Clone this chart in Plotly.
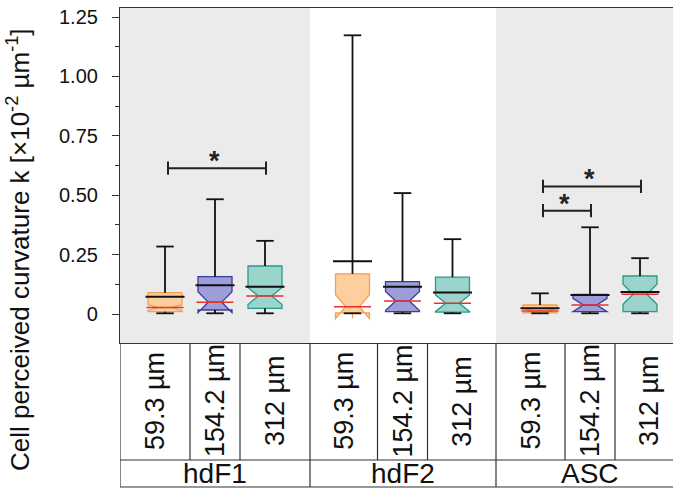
import plotly.graph_objects as go

# ---------------- data ----------------
groups = ["hdF1", "hdF2", "ASC"]
sizes = ["59.3 µm", "154.2 µm", "312 µm"]

# statistics per size, listed for [hdF1, hdF2, ASC]  (units: x10^-2 µm^-1)
s59_lower  = [0.003, 0.003, 0.003]
s59_q1     = [0.010, 0.005, 0.005]
s59_median = [0.027, 0.031, 0.013]
s59_q3     = [0.090, 0.169, 0.038]
s59_upper  = [0.284, 1.173, 0.087]
s59_mean   = [0.073, 0.222, 0.024]
s59_notch  = [0.012, 0.050, 0.010]

s154_lower  = [0.003, 0.003, 0.003]
s154_q1     = [0.017, 0.010, 0.010]
s154_median = [0.050, 0.055, 0.038]
s154_q3     = [0.157, 0.136, 0.083]
s154_upper  = [0.483, 0.509, 0.365]
s154_mean   = [0.121, 0.115, 0.080]
s154_notch  = [0.044, 0.040, 0.028]

s312_lower  = [0.003, 0.003, 0.003]
s312_q1     = [0.024, 0.008, 0.010]
s312_median = [0.076, 0.045, 0.083]
s312_q3     = [0.202, 0.155, 0.160]
s312_upper  = [0.308, 0.315, 0.235]
s312_mean   = [0.115, 0.091, 0.093]
s312_notch  = [0.036, 0.035, 0.042]

# significance brackets: (group, first size index, second size index, height)
sig_group = ["hdF1", "ASC", "ASC"]
sig_from  = [0, 0, 0]
sig_to    = [2, 2, 1]
sig_y     = [0.614, 0.537, 0.435]
sig_text  = ["*", "*", "*"]

y_tickvals = [0, 0.25, 0.50, 0.75, 1.00, 1.25]
y_ticktext = ["0", "0.25", "0.50", "0.75", "1.00", "1.25"]

# ---------------- layout helpers ----------------
group_start = [1.0, 4.75, 8.5]          # x position of first box in each group
group_edges = [0.1, 3.9, 7.62, 11.36]    # group boundaries (x units)
col_lines = [1.5, 2.5, 5.25, 6.25, 9.0, 10.0]
x_range = [0.1, 11.16]

fills = ["#FDCF9E", "#9D9DDA", "#9AD4CC"]
lines = ["#F4A04F", "#3C3C9C", "#2A9A8C"]

series = [
    (s59_lower, s59_q1, s59_median, s59_q3, s59_upper, s59_mean, s59_notch),
    (s154_lower, s154_q1, s154_median, s154_q3, s154_upper, s154_mean, s154_notch),
    (s312_lower, s312_q1, s312_median, s312_q3, s312_upper, s312_mean, s312_notch),
]

box_w = 0.68
cap_half = 0.175
mean_half = 0.39
med_half = 0.37

fig = go.Figure()

for si, (lo, q1, med, q3, up, mn, nt) in enumerate(series):
    xs = [group_start[g] + si for g in range(3)]
    fig.add_trace(go.Box(
        x=xs, q1=q1, median=med, q3=q3,
        lowerfence=q1, upperfence=q3,
        notched=True, notchspan=nt, notchwidth=0.3,
        width=box_w, whiskerwidth=0,
        fillcolor=fills[si], line=dict(color=lines[si], width=1.3),
        boxpoints=False, showlegend=False, hoverinfo="skip",
    ))

# whiskers (black)
wx, wy = [], []
for si, (lo, q1, med, q3, up, mn, nt) in enumerate(series):
    for g in range(3):
        x = group_start[g] + si
        wx += [x, x, None, x - cap_half, x + cap_half, None,
               x, x, None, x - cap_half, x + cap_half, None]
        wy += [q3[g], up[g], None, up[g], up[g], None,
               q1[g], lo[g], None, lo[g], lo[g], None]
fig.add_trace(go.Scatter(x=wx, y=wy, mode="lines",
                         line=dict(color="#111111", width=1.8),
                         showlegend=False, hoverinfo="skip"))

# medians (red)
mx, my = [], []
for si, (lo, q1, med, q3, up, mn, nt) in enumerate(series):
    for g in range(3):
        x = group_start[g] + si
        mx += [x - med_half, x + med_half, None]
        my += [med[g], med[g], None]
fig.add_trace(go.Scatter(x=mx, y=my, mode="lines",
                         line=dict(color="#E8312B", width=1.5),
                         showlegend=False, hoverinfo="skip"))

# means (black)
ax_, ay_ = [], []
for si, (lo, q1, med, q3, up, mn, nt) in enumerate(series):
    for g in range(3):
        x = group_start[g] + si
        ax_ += [x - mean_half, x + mean_half, None]
        ay_ += [mn[g], mn[g], None]
fig.add_trace(go.Scatter(x=ax_, y=ay_, mode="lines",
                         line=dict(color="#111111", width=2),
                         showlegend=False, hoverinfo="skip"))

# significance brackets
bx, by = [], []
tick_h = 0.028
annotations = []
for k in range(len(sig_group)):
    g = groups.index(sig_group[k])
    x1 = group_start[g] + sig_from[k] + 0.06
    x2 = group_start[g] + sig_to[k] + 0.02
    y = sig_y[k]
    bx += [x1, x2, None, x1, x1, None, x2, x2, None]
    by += [y, y, None, y - tick_h, y + tick_h, None, y - tick_h, y + tick_h, None]
    annotations.append(dict(x=(x1 + x2) / 2 - 0.06, y=y, xref="x", yref="y",
                            text="<b>%s</b>" % sig_text[k], showarrow=False,
                            yanchor="middle", yshift=7,
                            font=dict(size=27, color="#222222")))
fig.add_trace(go.Scatter(x=bx, y=by, mode="lines",
                         line=dict(color="#222222", width=2),
                         showlegend=False, hoverinfo="skip"))

# ---------------- background & table ----------------
shapes = []
for g in (0, 2):
    shapes.append(dict(type="rect", xref="x", yref="paper",
                       x0=group_edges[g], x1=group_edges[g + 1], y0=0, y1=1,
                       fillcolor="#EBEBEB", line=dict(width=0), layer="below"))

# plot area spans y px 8..343 (335 px); table rows below
ph = 335.0
row_div = (343 - 460) / ph
tab_bot = (343 - 487) / ph
lc = dict(color="#333333", width=1.2)
shapes.append(dict(type="line", xref="paper", yref="paper", x0=0, x1=1,
                   y0=row_div, y1=row_div, line=lc))
shapes.append(dict(type="line", xref="paper", yref="paper", x0=0, x1=1,
                   y0=tab_bot, y1=tab_bot, line=lc))
for xe in group_edges:
    shapes.append(dict(type="line", xref="x", yref="paper", x0=xe, x1=xe,
                       y0=0, y1=tab_bot, line=lc))
for xc in col_lines:
    shapes.append(dict(type="line", xref="x", yref="paper", x0=xc, x1=xc,
                       y0=0, y1=row_div, line=lc))

fam = "Liberation Sans, Arial, sans-serif"
font_size_lbl = dict(family=fam, size=27, color="#111111")
font_grp_lbl = dict(family=fam, size=28, color="#111111")
for g in range(3):
    bounds = [group_edges[g], col_lines[2 * g], col_lines[2 * g + 1], group_edges[g + 1]]
    for si in range(3):
        xc = (bounds[si] + bounds[si + 1]) / 2
        annotations.append(dict(x=xc, y=(343 - 401) / ph, xref="x", yref="paper",
                                text=sizes[si], textangle=-90, showarrow=False,
                                xanchor="center", yanchor="middle", font=font_size_lbl))
    annotations.append(dict(x=(group_edges[g] + group_edges[g + 1]) / 2,
                            y=(343 - 473) / ph, xref="x", yref="paper",
                            text=groups[g], showarrow=False,
                            xanchor="center", yanchor="middle", font=font_grp_lbl))

# y-axis title
annotations.append(dict(x=(18 - 120) / 553.0, y=(343 - 250) / ph, xref="paper", yref="paper",
                        text="Cell perceived curvature k [×10<sup>-2</sup> µm<sup>-1</sup>]",
                        textangle=-90, showarrow=False, xanchor="center", yanchor="middle",
                        font=dict(family=fam, size=26, color="#111111")))

fig.update_layout(
    width=673, height=490,
    margin=dict(l=120, r=0, t=8, b=147),
    paper_bgcolor="white", plot_bgcolor="white",
    font=dict(family=fam, color="#111111"),
    shapes=shapes, annotations=annotations,
    boxmode="overlay", showlegend=False,
)
fig.update_xaxes(range=x_range, showticklabels=False, ticks="", showgrid=False,
                 zeroline=False, showline=True, mirror=True, linecolor="#333333",
                 linewidth=1.2)
fig.update_yaxes(range=[-0.122, 1.288], tickmode="array", tickvals=y_tickvals,
                 ticktext=y_ticktext, ticks="outside", ticklen=7, tickwidth=1,
                 tickcolor="#333333", ticklabelstandoff=10,
                 tickfont=dict(size=20, color="#111111"),
                 minor=dict(tickmode="array", tickvals=[0.125, 0.375, 0.625, 0.875, 1.125],
                            ticks="outside", ticklen=4, tickcolor="#333333", showgrid=False),
                 showgrid=False, zeroline=False, showline=True, mirror=False,
                 linecolor="#333333", linewidth=1.2)

fig.write_html("out.html")
